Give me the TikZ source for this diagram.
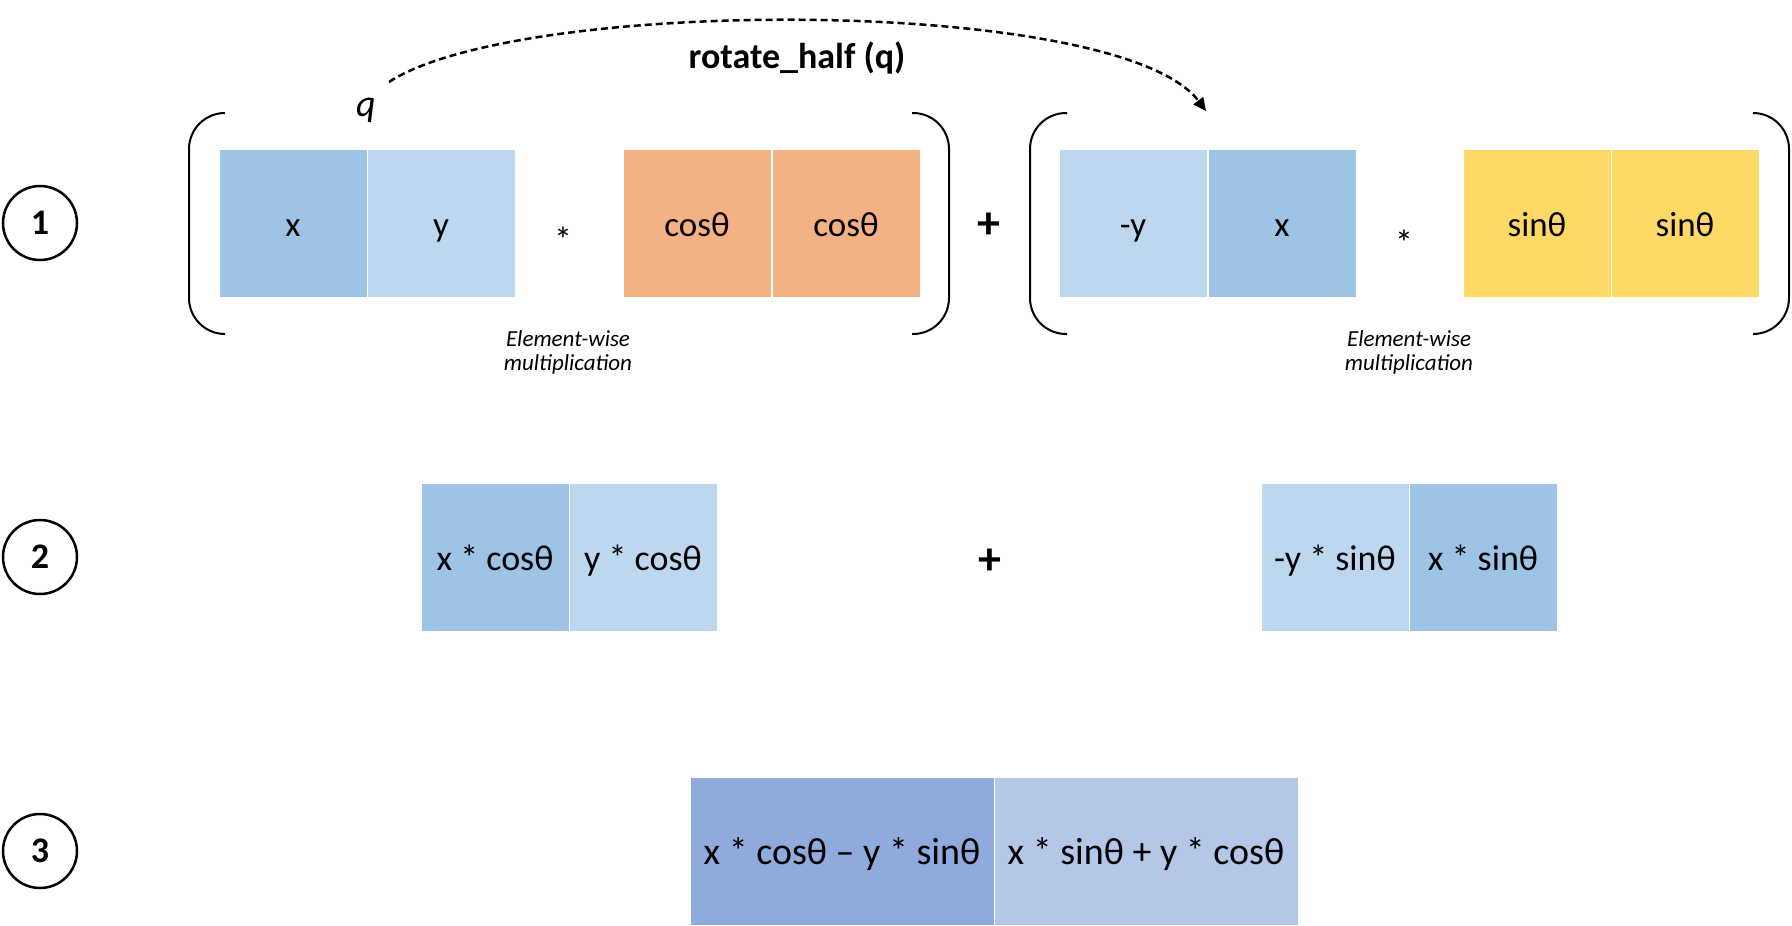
\documentclass[tikz,border=0pt]{standalone}
\usepackage{fontspec}
\setmainfont{Carlito}
\usetikzlibrary{arrows.meta}
\definecolor{blueA}{HTML}{9DC3E6}
\definecolor{blueB}{HTML}{BDD7EE}
\definecolor{orangeA}{HTML}{F4B183}
\definecolor{yellowA}{HTML}{FFD966}
\definecolor{blueC}{HTML}{8FAADC}
\definecolor{blueD}{HTML}{B4C7E7}
\begin{document}
\begin{tikzpicture}[x=1pt,y=-1pt,
  cell/.style={draw=white, line width=1pt, minimum width=148pt, minimum height=148pt, inner sep=0pt, text height=26pt, text depth=0pt, font=\fontsize{35}{40}\selectfont},
  cellb/.style={cell, font=\fontsize{36}{42}\selectfont},
  wide/.style={cell, minimum width=304pt, font=\fontsize{38}{44}\selectfont},
  bracket/.style={draw=black, line width=2pt, rounded corners=36pt},
  numcirc/.style={circle, draw=black, line width=2.5pt, minimum size=74pt, inner sep=0pt, font=\fontsize{36}{40}\selectfont\bfseries},
  plus/.style={font=\fontsize{46}{50}\selectfont\bfseries, inner sep=0pt},
  star/.style={font=\fontsize{36}{40}\selectfont, inner sep=0pt},
  note/.style={font=\fontsize{23}{24}\selectfont\itshape, align=center, inner sep=0pt},
]
\useasboundingbox (0,0) rectangle (1792,926);
\fill[white] (0,0) rectangle (1792,926);

% step numbers
\node[numcirc] (n1) at (40,223) {1};
\node[numcirc] (n2) at (40,557) {2};
\node[numcirc] (n3) at (40,851) {3};

% row 1, left group
\node[cell, fill=blueA] (x1) at (293,223.5) {x};
\node[cell, fill=blueB] (y1) at (441,223.5) {y};
\node[star] (s1) at (563,240) {*};
\node[cell, fill=orangeA] (c1) at (697,223.5) {cosθ};
\node[cell, fill=orangeA] (c2) at (846,223.5) {cosθ};
\draw[bracket] (225,113) -- (189,113) -- (189,334) -- (225,334);
\draw[bracket] (912,113) -- (949,113) -- (949,334) -- (912,334);
\node[note] (e1) at (568,352) {Element-wise\\multiplication};

\node[plus] (p1) at (989,226) {+};

% row 1, right group
\node[cell, fill=blueB] (my1) at (1133,223.5) {-y};
\node[cell, fill=blueA] (x2) at (1282,223.5) {x};
\node[star] (s2) at (1404,243) {*};
\node[cell, fill=yellowA] (sn1) at (1537,223.5) {sinθ};
\node[cell, fill=yellowA] (sn2) at (1685,223.5) {sinθ};
\draw[bracket] (1067,113) -- (1030,113) -- (1030,334) -- (1067,334);
\draw[bracket] (1753,113) -- (1789,113) -- (1789,334) -- (1753,334);
\node[note] (e2) at (1409,352) {Element-wise\\multiplication};

% rotate_half arrow
\node[font=\fontsize{38}{40}\selectfont\itshape, inner sep=0pt] (q) at (366,110) {q};
\node[font=\fontsize{36}{40}\selectfont\bfseries, inner sep=0pt] (rh) at (797,58) {rotate\_half (q)};
\coordinate (qs) at (389,82);
\coordinate (qe) at (1206,111);
\draw[line width=2.5pt, dash pattern=on 7pt off 4pt, -{Triangle[length=13pt,width=12pt]}]
  (qs) .. controls (520,-4) and (1120,-4) .. (qe);

% row 2
\node[cellb, fill=blueA] (r2a) at (495,557) {x * cosθ};
\node[cellb, fill=blueB] (r2b) at (643,557) {y * cosθ};
\node[plus] (p2) at (990,562) {+};
\node[cellb, fill=blueB] (r2c) at (1335,557) {-y * sinθ};
\node[cellb, fill=blueA] (r2d) at (1483,557) {x * sinθ};

% row 3
\node[wide, fill=blueC] (r3a) at (842,851) {x * cosθ – y * sinθ};
\node[wide, fill=blueD] (r3b) at (1146,851) {x * sinθ + y * cosθ};
\end{tikzpicture}
\end{document}
